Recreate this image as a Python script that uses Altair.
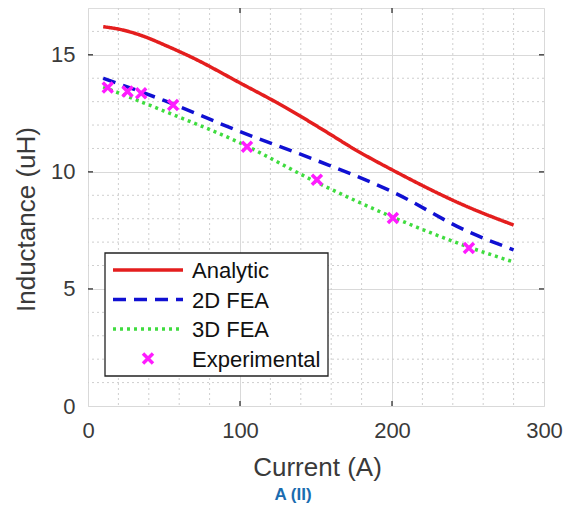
import altair as alt
import pandas as pd

series_names = ["Analytic", "2D FEA", "3D FEA", "Experimental"]
series_colors = ["#e41e1e", "#1010d2", "#3fdc3f", "#ff1cff"]
series_dash = [[1, 0], [13, 8], [3, 4], [1, 0]]

analytic_x = [10, 20, 37.5, 50, 69, 100, 130, 157, 175, 200, 250, 280]
analytic_y = [16.2, 16.1, 15.77, 15.43, 14.87, 13.8, 12.75, 11.7, 10.98, 10.09, 8.5, 7.73]

fea2d_x = [10, 50, 100, 150, 200, 250, 280]
fea2d_y = [14.0, 13.05, 11.72, 10.5, 9.16, 7.45, 6.67]

fea3d_x = [10, 50, 100, 150, 200, 250, 280]
fea3d_y = [13.63, 12.6, 11.24, 9.57, 8.08, 6.8, 6.15]

exp_x = [13, 26, 35, 56, 104.6, 150.6, 200.6, 250.6]
exp_y = [13.6, 13.43, 13.36, 12.86, 11.07, 9.66, 8.03, 6.75]

x_major = [0, 100, 200, 300]
y_major = [0, 5, 10, 15]
x_inner_ticks = [100, 200]
y_inner_ticks = [5, 10, 15]
x_minor = [20, 40, 60, 80, 120, 140, 160, 180, 220, 240, 260, 280]
y_minor = [1, 2, 3, 4, 6, 7, 8, 9, 11, 12, 13, 14, 16]

FONT = "Liberation Sans"
XPATH = "M-1,-1L1,1M1,-1L-1,1"
MARKER_SIZE = 100
PLOT_W, PLOT_H = 456, 398

lines_df = pd.concat([
    pd.DataFrame({"current": analytic_x, "L": analytic_y, "series": "Analytic"}),
    pd.DataFrame({"current": fea2d_x, "L": fea2d_y, "series": "2D FEA"}),
    pd.DataFrame({"current": fea3d_x, "L": fea3d_y, "series": "3D FEA"}),
])
exp_df = pd.DataFrame({"current": exp_x, "L": exp_y, "series": "Experimental"})

xscale = alt.Scale(domain=[0, 300], nice=False, zero=False)
yscale = alt.Scale(domain=[0, 17], nice=False, zero=False)

color = alt.Color("series:N", scale=alt.Scale(domain=series_names, range=series_colors), legend=None)
dash = alt.StrokeDash("series:N", scale=alt.Scale(domain=series_names, range=series_dash), legend=None)

xminor = alt.Chart(pd.DataFrame({"v": x_minor})).mark_rule(
    color="#cfcfcf", strokeWidth=1, strokeDash=[2, 3]
).encode(x=alt.X("v:Q", scale=xscale))
yminor = alt.Chart(pd.DataFrame({"v": y_minor})).mark_rule(
    color="#cfcfcf", strokeWidth=1, strokeDash=[2, 3]
).encode(y=alt.Y("v:Q", scale=yscale))

# inward ticks (MATLAB style)
xt = pd.DataFrame({"v": x_inner_ticks})
yt = pd.DataFrame({"v": y_inner_ticks})
tick_style = dict(color="#222222", strokeWidth=1.2)
ticks = [
    alt.Chart(xt).mark_rule(**tick_style).encode(x=alt.X("v:Q", scale=xscale), y=alt.value(PLOT_H), y2=alt.value(PLOT_H - 5)),
    alt.Chart(xt).mark_rule(**tick_style).encode(x=alt.X("v:Q", scale=xscale), y=alt.value(0), y2=alt.value(5)),
    alt.Chart(yt).mark_rule(**tick_style).encode(y=alt.Y("v:Q", scale=yscale), x=alt.value(0), x2=alt.value(5)),
    alt.Chart(yt).mark_rule(**tick_style).encode(y=alt.Y("v:Q", scale=yscale), x=alt.value(PLOT_W), x2=alt.value(PLOT_W - 5)),
]

lines = alt.Chart(lines_df).mark_line(strokeWidth=3.5, clip=True, interpolate="monotone").encode(
    x=alt.X("current:Q", scale=xscale, title="Current (A)",
            axis=alt.Axis(values=x_major, grid=True, gridColor="#d9d9d9", ticks=False, tickSize=0,
                          domain=False, labelFlush=False, labelFont=FONT, labelFontSize=22,
                          labelColor="#3a3a3a", labelPadding=14, titleFont=FONT, titleFontSize=26,
                          titleColor="#3a3a3a", titleFontWeight="normal", titleX=229, titleY=61,
                          titleBaseline="middle")),
    y=alt.Y("L:Q", scale=yscale, title="Inductance (uH)",
            axis=alt.Axis(values=y_major, grid=True, gridColor="#d9d9d9", ticks=False, tickSize=0,
                          domain=False, labelFlush=False, labelFont=FONT, labelFontSize=22,
                          labelColor="#3a3a3a", labelPadding=13, titleFont=FONT, titleFontSize=26,
                          titleColor="#3a3a3a", titleFontWeight="normal", titleX=-62, titleY=211,
                          titleBaseline="middle")),
    color=color,
    strokeDash=dash,
    order=alt.Order("current:Q"),
)

points = alt.Chart(exp_df).mark_point(
    shape=XPATH, filled=False, strokeWidth=3.5, size=MARKER_SIZE, opacity=1
).encode(
    x=alt.X("current:Q", scale=xscale),
    y=alt.Y("L:Q", scale=yscale),
    color=color,
)

# ---- legend (drawn manually, MATLAB style) ----
leg_rows = [262, 291.5, 321, 350.5]
leg_box = alt.Chart(pd.DataFrame({"a": [0]})).mark_rect(
    fill="white", stroke="#222222", strokeWidth=1.3
).encode(x=alt.value(17), x2=alt.value(240), y=alt.value(245), y2=alt.value(368))

leg_layers = [leg_box]
for i, name in enumerate(series_names):
    d = pd.DataFrame({"series": [name]})
    if name != "Experimental":
        leg_layers.append(
            alt.Chart(d).mark_rule(color=series_colors[i], strokeWidth=3.5, strokeDash=series_dash[i])
            .encode(x=alt.value(25), x2=alt.value(95), y=alt.value(leg_rows[i]))
        )
    else:
        leg_layers.append(
            alt.Chart(d).mark_point(shape=XPATH, filled=False, strokeWidth=3.5, size=MARKER_SIZE,
                                    color=series_colors[i], opacity=1)
            .encode(x=alt.value(60), y=alt.value(leg_rows[i]))
        )
    leg_layers.append(
        alt.Chart(d).mark_text(align="left", baseline="middle", font=FONT, fontSize=22, color="#111111")
        .encode(x=alt.value(104), y=alt.value(leg_rows[i] + 1), text=alt.Text("series:N"))
    )

chart = alt.layer(xminor, yminor, *ticks, lines, points, *leg_layers).properties(
    width=PLOT_W, height=PLOT_H,
    padding={"left": 80, "top": 0, "right": 21, "bottom": 100},
    autosize=alt.AutoSizeParams(type="none"),
    title=alt.TitleParams("A (II)", orient="bottom", anchor="middle", fontSize=17, fontWeight="bold",
                          color="#1a6cb0", font=FONT, offset=7, dx=-23),
).configure_view(stroke="#222222", strokeWidth=1.5).configure(background="white")

chart.save("out.html", embed_options={"renderer": "svg", "actions": False})
